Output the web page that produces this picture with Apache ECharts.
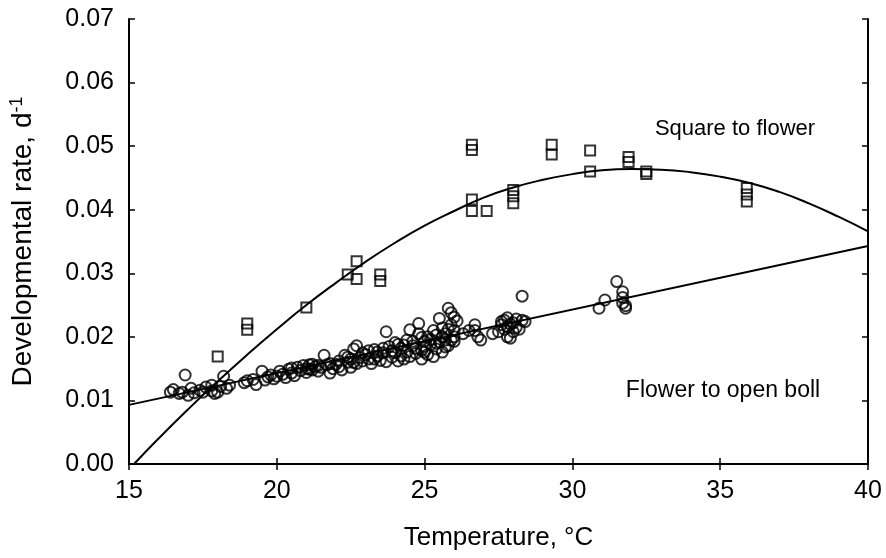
<!DOCTYPE html>
<html>
<head>
<meta charset="utf-8">
<script src="https://cdn.jsdelivr.net/npm/echarts@6/dist/echarts.min.js"></script>
<style>html,body{margin:0;padding:0;background:#fff}#c{width:886px;height:558px}</style>
</head>
<body>
<div id="c"></div>
<script>
// Square to flower observations
var sqTemp = [18.0, 19.0, 19.0, 21.0, 22.4, 22.7, 22.7, 23.5, 23.5, 26.6, 26.6, 26.6, 26.6, 27.1, 28.0, 28.0, 28.0, 29.3, 29.3, 30.6, 30.6, 31.9, 31.9, 32.5, 32.5, 35.9, 35.9, 35.9];
var sqRate = [0.0169, 0.0221, 0.0211, 0.0246, 0.0298, 0.0319, 0.0291, 0.0298, 0.0288, 0.0502, 0.0494, 0.0416, 0.0398, 0.0398, 0.0431, 0.0421, 0.0410, 0.0502, 0.0487, 0.0493, 0.0460, 0.0483, 0.0475, 0.0460, 0.0456, 0.0434, 0.0424, 0.0413];

// Flower to open boll observations
var flTemp = [16.4,16.5,16.7,16.8,16.9,17.0,17.1,17.2,17.4,17.5,17.6,17.8,17.8,17.9,18.0,18.1,18.2,18.3,18.4,
  18.9,19.0,19.2,19.3,19.5,19.6,19.8,19.9,20.1,20.2,20.3,20.4,20.5,20.6,20.7,20.8,20.9,21.0,21.0,21.1,21.2,21.3,21.4,21.5,21.6,21.7,21.8,21.9,
  22.0,22.1,22.2,22.3,22.4,22.5,22.5,22.6,22.7,22.7,22.8,22.9,23.0,23.1,23.2,23.3,23.4,23.5,23.6,23.7,23.7,23.8,23.9,
  24.0,24.0,24.1,24.2,24.3,24.4,24.4,24.5,24.5,24.6,24.7,24.8,24.8,24.9,24.9,25.0,25.0,25.1,25.1,25.2,25.3,25.3,25.4,25.4,
  25.5,25.5,25.6,25.6,25.7,25.7,25.8,25.8,25.9,25.9,26.0,26.0,26.0,26.1,
  26.3,26.5,26.7,26.7,26.8,26.9,27.3,27.5,27.6,27.6,27.7,27.7,27.8,27.8,27.8,27.9,27.9,28.0,28.0,28.1,28.1,28.2,28.3,28.3,28.4,
  30.9,31.1,31.5,31.7,31.7,31.7,31.8,31.8,
  20.0,20.5,21.1,21.4,21.8,22.1,22.6,22.9,23.1,23.3,23.6,23.9,24.2,24.3,24.6,24.7,25.0,25.2,25.4,25.6,25.8,25.9,26.0,25.7,24.9,24.1,23.4,22.4,21.2,19.7];
var flRate = [0.0113,0.0117,0.0111,0.0113,0.0140,0.0108,0.0119,0.0112,0.0116,0.0113,0.0121,0.0124,0.0115,0.0111,0.0113,0.0122,0.0138,0.0119,0.0124,
  0.0128,0.0131,0.0133,0.0125,0.0146,0.0132,0.0140,0.0134,0.0146,0.0141,0.0136,0.0149,0.0143,0.0139,0.0152,0.0147,0.0155,0.0150,0.0144,0.0156,0.0148,0.0153,0.0146,0.0152,0.0171,0.0156,0.0143,0.0150,
  0.0157,0.0153,0.0148,0.0171,0.0160,0.0165,0.0152,0.0181,0.0186,0.0158,0.0167,0.0162,0.0172,0.0165,0.0158,0.0180,0.0170,0.0163,0.0175,0.0208,0.0161,0.0185,0.0168,
  0.0191,0.0175,0.0162,0.0182,0.0165,0.0195,0.0176,0.0211,0.0169,0.0186,0.0174,0.0205,0.0221,0.0179,0.0165,0.0193,0.0185,0.0172,0.0200,0.0188,0.0169,0.0210,0.0203,0.0181,
  0.0229,0.0192,0.0176,0.0214,0.0195,0.0205,0.0245,0.0186,0.0219,0.0238,0.0200,0.0210,0.0193,0.0225,
  0.0205,0.0210,0.0219,0.0210,0.0200,0.0195,0.0205,0.0208,0.0219,0.0224,0.0212,0.0226,0.0216,0.0230,0.0200,0.0198,0.0220,0.0208,0.0222,0.0215,0.0228,0.0212,0.0226,0.0264,0.0224,
  0.0245,0.0258,0.0287,0.0271,0.0262,0.0253,0.0245,0.0249,
  0.0138,0.0151,0.0149,0.0155,0.0158,0.0162,0.0160,0.0175,0.0178,0.0165,0.0182,0.0178,0.0170,0.0187,0.0193,0.0182,0.0176,0.0196,0.0190,0.0200,0.0212,0.0195,0.0231,0.0184,0.0199,0.0188,0.0176,0.0168,0.0157,0.0137];

// Fitted curves
var sqFitTemp = [15.17, 16, 17, 18, 19, 20, 21, 22, 23, 24, 25, 26, 27, 28, 29, 30, 31, 32, 33, 34, 35, 36, 37, 38, 39, 40];
var sqFitRate = [0, 0.0040, 0.0086, 0.0130, 0.0172, 0.0212, 0.0250, 0.0285, 0.0318, 0.0348, 0.0375, 0.0398, 0.0419, 0.0435, 0.0447, 0.0456, 0.0462, 0.0464, 0.0463, 0.0459, 0.0452, 0.0442, 0.0428, 0.0410, 0.0389, 0.0366];
var flFitTemp = [15, 40];
var flFitRate = [0.0093, 0.0343];

// Axis ticks
var xTicks = [15, 20, 25, 30, 35, 40];
var yTicks = [0.00, 0.01, 0.02, 0.03, 0.04, 0.05, 0.06, 0.07];

var seriesLabels = ['Square to flower', 'Flower to open boll'];

function zip(a, b) { return a.map(function (v, i) { return [v, b[i]]; }); }

var FONT = 'Liberation Sans, Arial, sans-serif';
var chart = echarts.init(document.getElementById('c'), null, {renderer: 'canvas'});

var axisLine = {show: true, lineStyle: {color: '#000', width: 2}};
var tick = {show: true, inside: true, length: 6, lineStyle: {color: '#000', width: 1.5}};

var option = {
  animation: false,
  backgroundColor: '#fff',
  grid: {left: 128, right: 18, top: 19, bottom: 94, containLabel: false},
  xAxis: [{
    type: 'value', min: xTicks[0], max: xTicks[xTicks.length - 1], interval: 5,
    axisLine: axisLine, axisTick: tick, splitLine: {show: false},
    axisLabel: {fontFamily: FONT, fontSize: 25, color: '#000', margin: 15},
    name: 'Temperature, °C', nameLocation: 'middle', nameGap: 61,
    nameTextStyle: {fontFamily: FONT, fontSize: 26, color: '#000'}
  }, {
    type: 'value', position: 'top', min: xTicks[0], max: xTicks[xTicks.length - 1], interval: 5,
    axisLine: axisLine, axisTick: tick, axisLabel: {show: false}, splitLine: {show: false}
  }],
  yAxis: [{
    type: 'value', min: yTicks[0], max: yTicks[yTicks.length - 1], interval: 0.01,
    axisLine: axisLine, axisTick: tick, splitLine: {show: false},
    axisLabel: {fontFamily: FONT, fontSize: 25, color: '#000', margin: 15,
      formatter: function (v) { return v.toFixed(2); }},
    name: '{a|Developmental rate, d}{b|-1}', nameLocation: 'middle', nameGap: 90,
    nameTextStyle: {fontFamily: FONT, fontSize: 28, color: '#000',
      rich: {a: {fontFamily: FONT, fontSize: 28, color: '#000'},
             b: {fontFamily: FONT, fontSize: 18, color: '#000', verticalAlign: 'top', padding: [0, 0, 13, 0]}}}
  }, {
    type: 'value', position: 'right', min: yTicks[0], max: yTicks[yTicks.length - 1], interval: 0.01,
    axisLine: axisLine, axisTick: tick, axisLabel: {show: false}, splitLine: {show: false}
  }],
  series: [{
    name: seriesLabels[0] + ' fit', type: 'line', data: zip(sqFitTemp, sqFitRate), smooth: true,
    showSymbol: false, symbol: 'none', lineStyle: {color: '#000', width: 2}, clip: true, z: 2
  }, {
    name: seriesLabels[1] + ' fit', type: 'line', data: zip(flFitTemp, flFitRate),
    showSymbol: false, symbol: 'none', lineStyle: {color: '#000', width: 2}, clip: true, z: 2
  }, {
    name: seriesLabels[0], type: 'scatter', data: zip(sqTemp, sqRate), symbol: 'rect', symbolSize: 10,
    itemStyle: {color: 'rgba(255,255,255,0)', borderColor: '#000', borderWidth: 2}, z: 3
  }, {
    name: seriesLabels[1], type: 'scatter', data: zip(flTemp, flRate), symbol: 'circle', symbolSize: 11,
    itemStyle: {color: 'rgba(255,255,255,0)', borderColor: '#000', borderWidth: 2}, z: 3
  }],
  graphic: [{
    type: 'text', x: 735, y: 129,
    style: {text: seriesLabels[0], fontFamily: FONT, fontSize: 22, fill: '#000', align: 'center', verticalAlign: 'middle'}
  }, {
    type: 'text', x: 723, y: 391,
    style: {text: seriesLabels[1], fontFamily: FONT, fontSize: 23, fill: '#000', align: 'center', verticalAlign: 'middle'}
  }]
};
chart.setOption(option);
</script>
</body>
</html>
